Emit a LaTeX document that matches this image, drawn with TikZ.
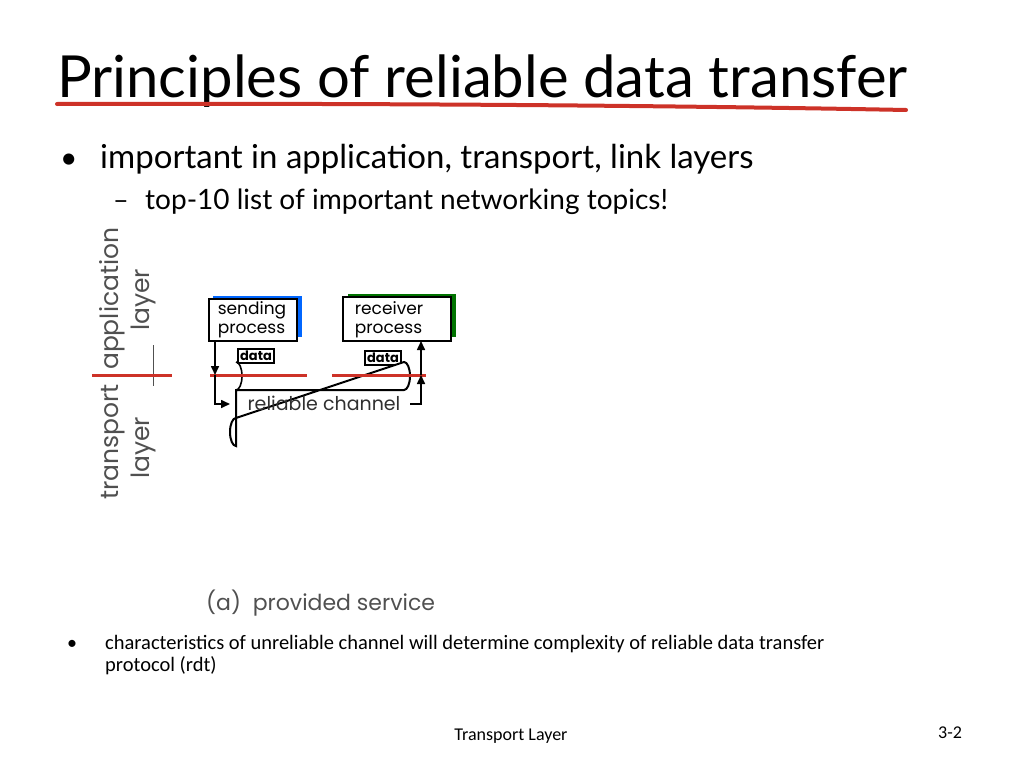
\documentclass[tikz,border=0pt]{standalone}
\usepackage{fontspec}
\setmainfont{Lato}
\newfontfamily\diag{Poppins}
\newfontfamily\calib{Carlito}
\usetikzlibrary{arrows.meta}
\definecolor{redl}{RGB}{205,50,40}
\definecolor{grayt}{RGB}{80,80,80}
\tikzset{
  box/.style={draw=black,line width=2pt,fill=white},
  dbox/.style={draw=black,line width=2pt,fill=white,inner sep=2pt,font=\diag\bfseries\fontsize{13}{13}\selectfont},
  redline/.style={draw=redl,line width=3pt},
  arr/.style={line width=1.6pt,-{Triangle[length=9pt,width=8pt]}},
  difftxt/.style={font=\diag\fontsize{25}{25}\selectfont,text=grayt},
}
\begin{document}
\begin{tikzpicture}[x=1pt,y=-1pt]
\useasboundingbox (0,0) rectangle (1024,768);
% title
\node[anchor=base west,inner sep=0,font=\fontsize{58}{58}\selectfont] (title) at (57,97) {Principles of reliable data transfer};
\draw[redl,line width=4pt,line cap=round] (57,104) .. controls (400,103) and (700,106) .. (906,110);
% bullets
\node[anchor=base west,inner sep=0,font=\fontsize{30}{30}\selectfont] (b1) at (60,168) {\textbullet};
\node[anchor=base west,inner sep=0,font=\fontsize{33}{33}\selectfont] (t1) at (100,168) {important in application, transport, link layers};
\node[anchor=base west,inner sep=0,font=\fontsize{27}{27}\selectfont] (d1) at (113,209) {--};
\node[anchor=base west,inner sep=0,font=\fontsize{28}{28}\selectfont] (t2) at (145,209) {top-10 list of important networking topics!};
% layer labels
\node[difftxt,rotate=90,anchor=base west,inner sep=0] (app) at (118,370) {application};
\node[difftxt,rotate=90,anchor=base west,inner sep=0] (lay1) at (149,331) {layer};
\node[difftxt,rotate=90,anchor=base west,inner sep=0] (tr) at (118,500) {transport};
\node[difftxt,rotate=90,anchor=base west,inner sep=0] (lay2) at (149,479) {layer};
\draw[grayt,line width=1pt] (153,345) -- (153,386);
\draw[redline] (92,375) -- (172,375);
% sender
\fill[blue!60!cyan] (213,296) rectangle (302,337);
\draw[box] (209,299) rectangle (297,341);
\node[font=\diag\fontsize{17}{19}\selectfont,align=left,inner sep=0] (snd) at (252,320) {sending\\process};
\node[dbox] (d1box) at (256,356) {data};
% receiver
\fill[green!45!black] (348,294) rectangle (456,337);
\draw[box] (343,297) rectangle (451,341);
\node[font=\diag\fontsize{17}{19}\selectfont,align=left,inner sep=0] (rcv) at (389,320) {receiver\\process};
\node[dbox] (d2box) at (383,358) {data};
% channel
\draw[line width=2pt,fill=white] (236,390) -- (404,390) arc[start angle=90,end angle=-90,x radius=6,y radius=14] -- (236,418) arc[start angle=270,end angle=90,x radius=6,y radius=14] -- cycle;
\draw[line width=1.6pt] (236,390) arc[start angle=90,end angle=-90,x radius=6,y radius=14];
\coordinate (chw) at (230,404);
\coordinate (che) at (410,404);
\node[font=\diag\fontsize{19}{19}\selectfont,text=grayt!60!black] (chl) at (324,403) {reliable channel};
% red lines
\draw[redline] (210,375) -- (307,375);
\draw[redline] (332,375) -- (426,375);
% arrows
\coordinate (s1) at (215,341);
\coordinate (s2) at (215,375);
\coordinate (r1) at (421,375);
\coordinate (r2) at (421,341);
\draw[arr] (s1) -- (s2);
\draw[arr] (s2) |- (chw);
\draw[arr] (che) -| (r1);
\draw[arr] (r1) -- (r2);
\node[anchor=base west,inner sep=0,font=\diag\fontsize{22}{22}\selectfont,text=grayt] (cap) at (206,610) {(a)\ \ provided service};
% bottom
\node[anchor=base west,inner sep=0,font=\calib\fontsize{20}{20}\selectfont] (b2) at (67,649) {\textbullet};
\node[anchor=base west,inner sep=0,font=\calib\fontsize{20.5}{20.5}\selectfont] (t3) at (105,649) {characteristics of unreliable channel will determine complexity of reliable data transfer};
\node[anchor=base west,inner sep=0,font=\calib\fontsize{20.5}{20.5}\selectfont] (t4) at (105,671) {protocol (rdt)};
\node[anchor=base,inner sep=0,font=\calib\fontsize{18}{18}\selectfont] (foot) at (511,740) {Transport Layer};
\node[anchor=base,inner sep=0,font=\calib\fontsize{18}{18}\selectfont] (pg) at (950,738) {3-2};
\end{tikzpicture}
\end{document}
